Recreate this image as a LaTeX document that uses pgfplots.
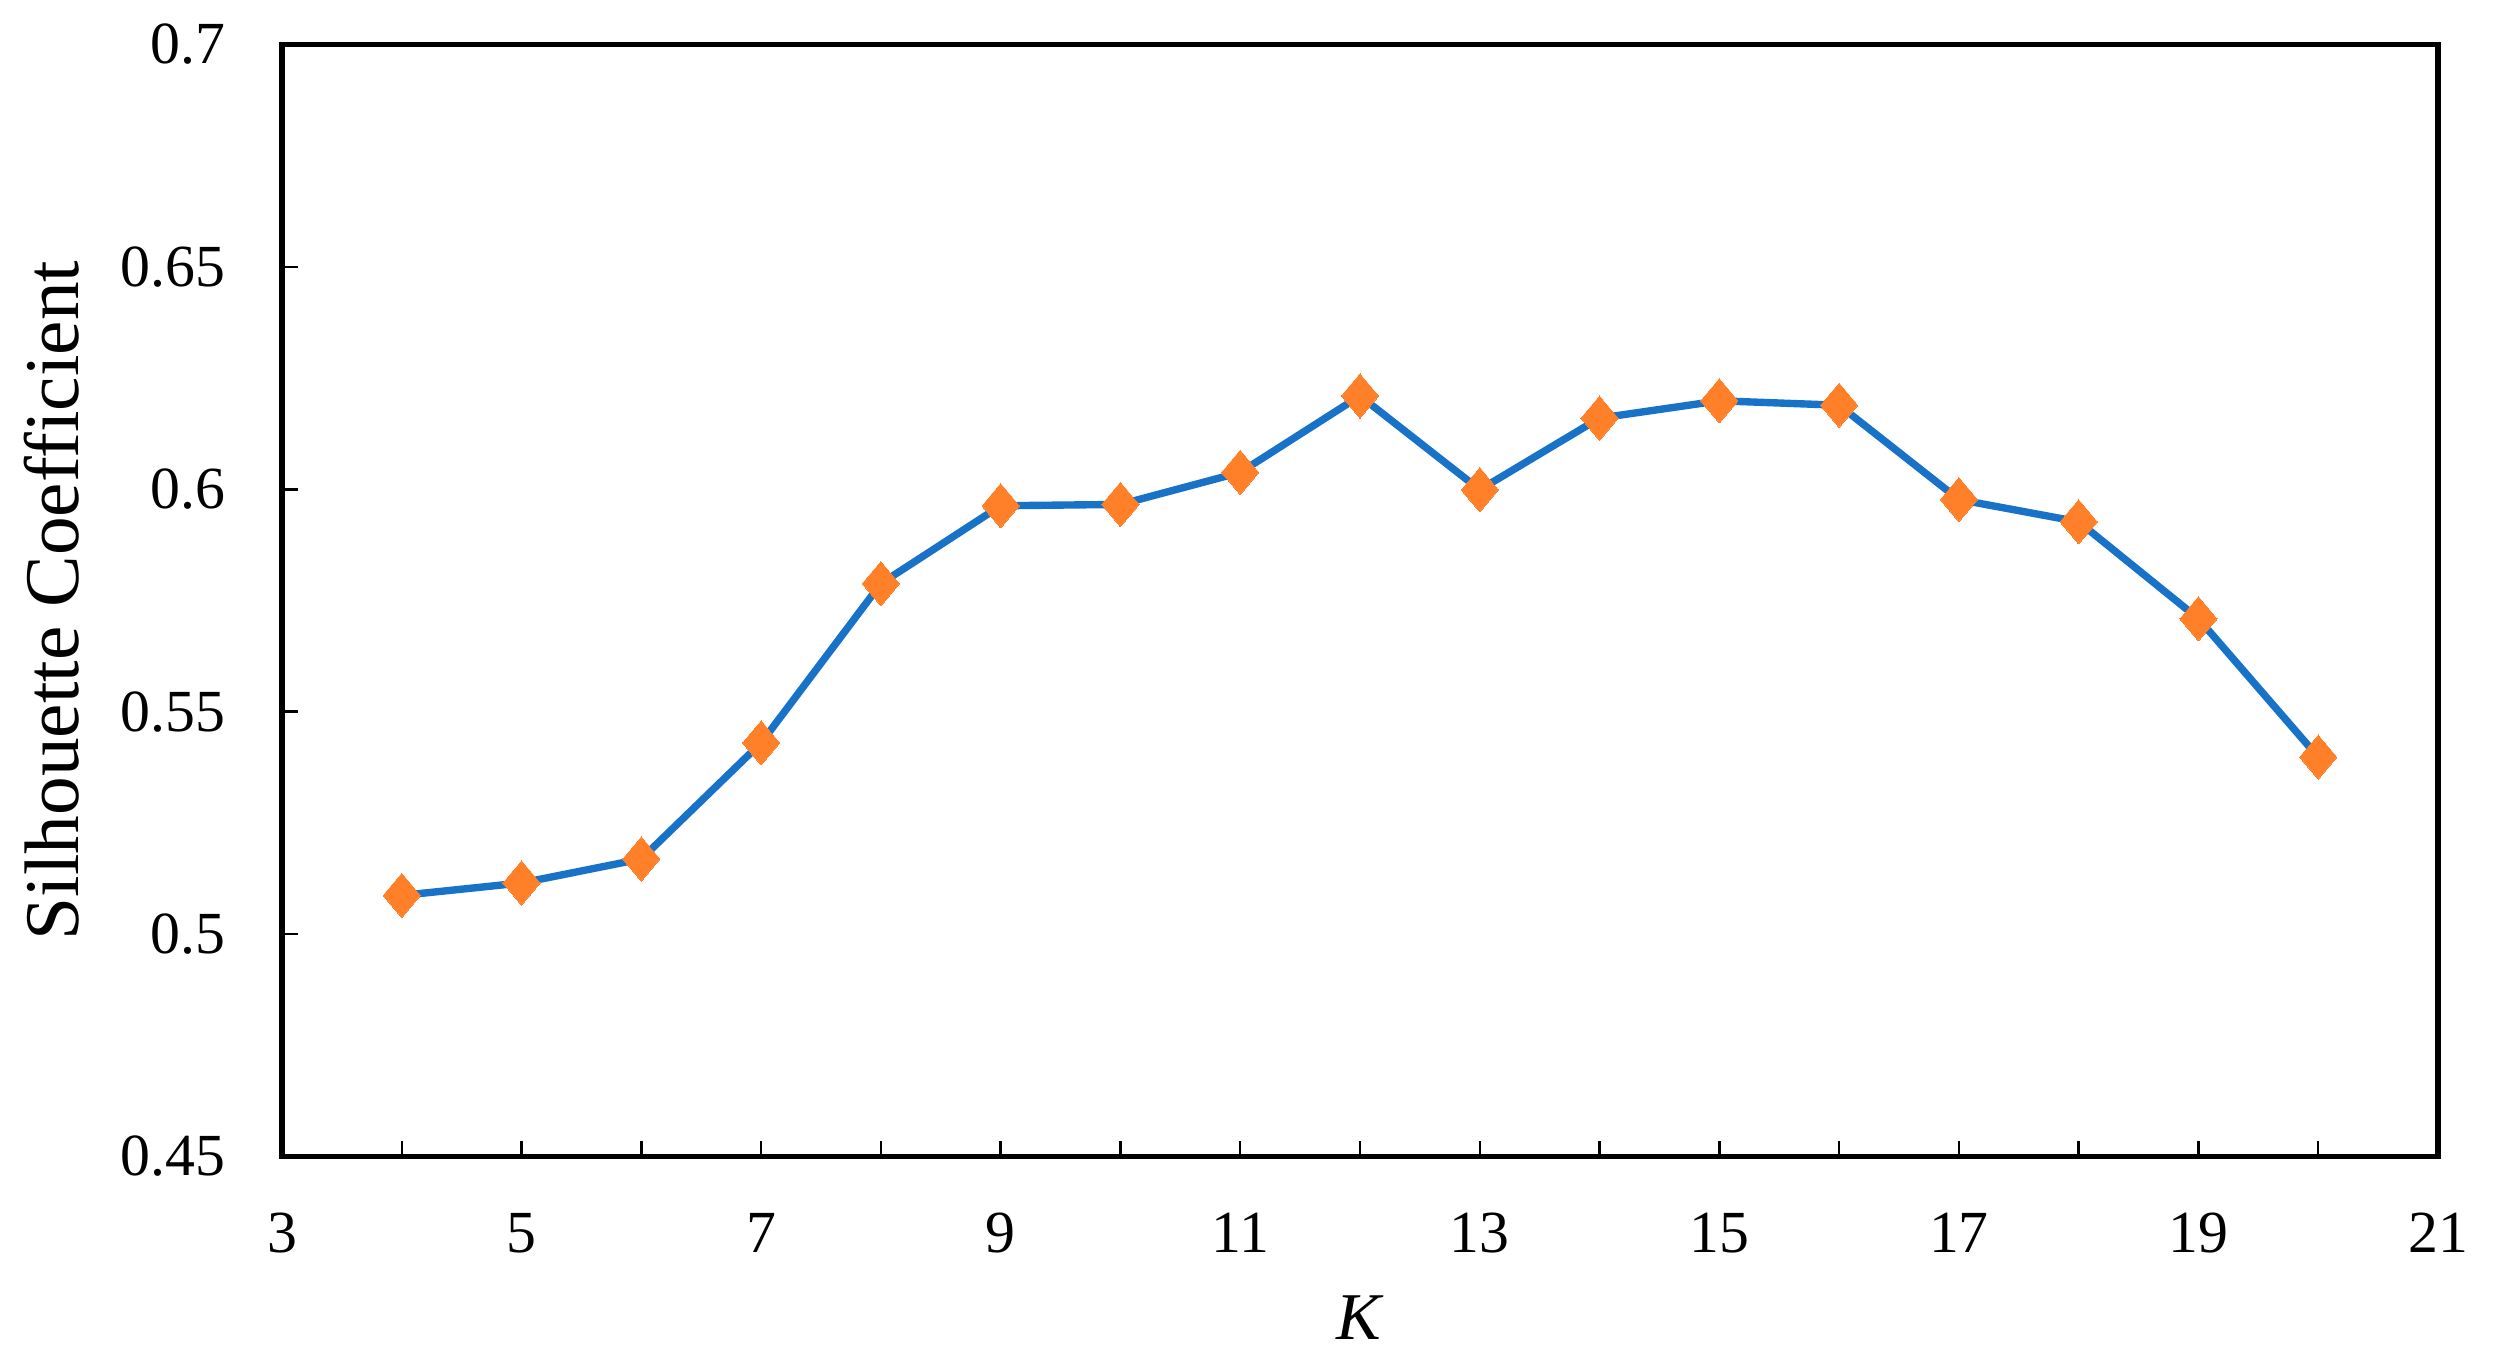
\documentclass[border=0pt]{standalone}
\usepackage{fontspec}
\setmainfont{Liberation Serif}
\usepackage{pgfplots}
\pgfplotsset{compat=1.18}
\definecolor{lineblue}{RGB}{24,115,200}
\definecolor{mkorange}{RGB}{255,128,40}
\begin{document}
\begin{tikzpicture}
\begin{axis}[
  scale only axis,
  width=21.56cm, height=11.12cm,
  xmin=3, xmax=21, ymin=0.45, ymax=0.7,
  xtick={3,5,...,21},
  minor xtick={4,6,...,20},
  ytick={0.45,0.5,0.55,0.6,0.65,0.7},
  tick align=inside,
  xtick pos=bottom, ytick pos=left,
  major tick length=1.6mm, minor tick length=1.6mm,
  every tick/.style={black, line width=0.7pt},
  axis line style={line width=1.7pt},
  /pgf/number format/assume math mode=true,
  /pgf/number format/fixed,
  /pgf/number format/precision=2,
  tick label style={font=\fontsize{17}{20}\selectfont},
  yticklabel style={inner sep=0pt, anchor=east, xshift=-5.6mm},
  xticklabel style={inner sep=0pt, anchor=north, yshift=-5.6mm},
  xlabel={\textit{K}},
  ylabel={Silhouette Coefficient},
  xlabel style={font=\fontsize{19}{22}\selectfont, at={(axis description cs:0.5,0)}, anchor=center, yshift=-16.1mm},
  ylabel style={font=\fontsize{22}{26}\selectfont, at={(axis description cs:0,0.5)}, anchor=center, yshift=23mm},
]
\addplot[color=lineblue, line width=2.1pt, mark=diamond*, mark size=6.3pt,
  mark options={fill=mkorange, draw=mkorange, line width=0pt, xscale=1.12}]
coordinates {
(4,0.5087) (5,0.5115) (6,0.5169) (7,0.5430) (8,0.5788) (9,0.5963)
(10,0.5966) (11,0.6038) (12,0.6210) (13,0.5999) (14,0.6160) (15,0.6199)
(16,0.6189) (17,0.5977) (18,0.5927) (19,0.5709) (20,0.5398)
};
\end{axis}
\pgfresetboundingbox
\path (-2.82cm,-1.94cm) rectangle (22.12cm,11.565cm);
\end{tikzpicture}
\end{document}
